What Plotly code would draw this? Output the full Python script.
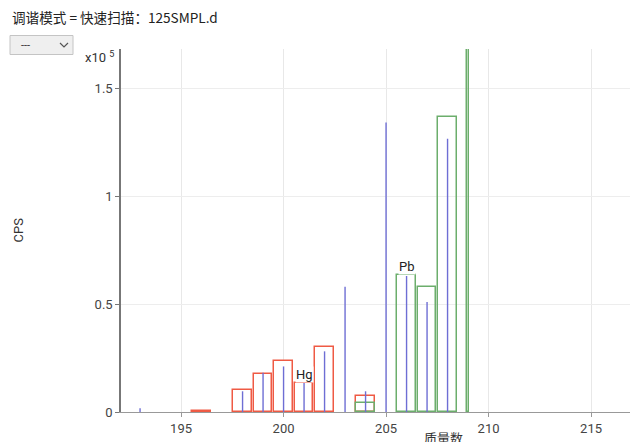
import plotly.graph_objects as go

# ---- data (CPS in units of 1e5) ----
blue_mass = [193, 198, 199, 200, 201, 202, 203, 204, 205, 206, 207, 208]
blue_cps = [0.017, 0.096, 0.182, 0.211, 0.134, 0.281, 0.58, 0.096, 1.341, 0.63, 0.509, 1.266]

hg_mass = [196, 198, 199, 200, 201, 202, 204]
hg_cps = [0.003, 0.104, 0.175, 0.235, 0.134, 0.301, 0.073]

pb_mass = [204, 206, 207, 208]
pb_cps = [0.042, 0.633, 0.579, 1.368]

bi_mass = [209]
bi_cps = [1.75]

x_ticks = [195, 200, 205, 210, 215]
y_ticks = [0, 0.5, 1, 1.5]
y_tick_text = ["0", "0.5", "1", "1.5"]

SCALE = 1e5
W, H = 638, 442
OFF = 8  # page body margin
L, R, T, B = 113, 0, 40.5, 38.3

RED = "#ef5a44"
GREEN = "#6cae6c"
BLUE = "#6e6ed4"
FONT = "Roboto"
CJK = "Noto Sans CJK SC"

fig = go.Figure()

fig.add_trace(go.Bar(x=hg_mass, y=[v * SCALE for v in hg_cps], width=0.92,
                     marker=dict(color="white", line=dict(color=RED, width=1.5)),
                     hoverinfo="skip"))
fig.add_trace(go.Bar(x=pb_mass, y=[v * SCALE for v in pb_cps], width=0.92,
                     marker=dict(color="rgba(255,255,255,0)", line=dict(color=GREEN, width=1.5)),
                     hoverinfo="skip"))
fig.add_trace(go.Bar(x=bi_mass, y=[v * SCALE for v in bi_cps], width=0.08,
                     marker=dict(color="rgba(255,255,255,0)", line=dict(color=GREEN, width=1.5)),
                     hoverinfo="skip"))

bx, by = [], []
for m, v in zip(blue_mass, blue_cps):
    bx += [m, m, None]
    by += [0, v * SCALE, None]
fig.add_trace(go.Scatter(x=bx, y=by, mode="lines", line=dict(color=BLUE, width=1.4),
                         hoverinfo="skip"))

pw, ph = W - L - R, H - T - B


def px(x):
    return (x - OFF - L) / pw


def py(y):
    return (H - B - (y - OFF)) / ph


annotations = [
    dict(x=201, y=0.134 * SCALE, xref="x", yref="y", text="Hg", showarrow=False,
         yanchor="bottom", bgcolor="white", font=dict(size=13, color="#222", family=FONT),
         borderpad=0),
    dict(x=206, y=0.633 * SCALE, xref="x", yref="y", text="Pb", showarrow=False,
         yanchor="bottom", bgcolor="white", font=dict(size=13, color="#222", family=FONT),
         borderpad=0),
    dict(x=px(116), y=py(57), xref="paper", yref="paper", text="x10 <sup>5</sup>",
         showarrow=False, xanchor="right", yanchor="middle",
         font=dict(size=13, color="#333", family=FONT)),
    dict(x=px(18), y=py(230), xref="paper", yref="paper", text="CPS", textangle=-90,
         showarrow=False, xanchor="center", yanchor="middle",
         font=dict(size=13, color="#333", family=FONT)),
    dict(x=px(443), y=py(437), xref="paper", yref="paper", text="质量数",
         showarrow=False, xanchor="center", yanchor="middle",
         font=dict(size=13, color="#333", family=CJK)),
    dict(x=px(10), y=py(16), xref="paper", yref="paper",
         text="调谐模式 = 快速扫描：125SMPL.d",
         showarrow=False, xanchor="left", yanchor="middle",
         font=dict(size=13.6, color="#222", family=CJK)),
    dict(x=px(19), y=py(45), xref="paper", yref="paper", text="---",
         showarrow=False, xanchor="left", yanchor="middle",
         font=dict(size=11, color="#333", family=FONT)),
]

shapes = [
    dict(type="rect", xref="paper", yref="paper", x0=px(10), x1=px(73), y0=py(54), y1=py(35),
         fillcolor="#efefef", line=dict(color="#c4c4c4", width=1), layer="above"),
    dict(type="path", xref="paper", yref="paper",
         path=f"M {px(60)} {py(42.5)} L {px(64)} {py(46.5)} L {px(68)} {py(42.5)}",
         line=dict(color="#555", width=1.2), layer="above"),
]

fig.update_layout(
    width=W, height=H,
    margin=dict(l=L, r=R, t=T, b=B, pad=0),
    paper_bgcolor="white", plot_bgcolor="white",
    barmode="overlay", bargap=0, showlegend=False,
    font=dict(family=FONT, size=13, color="#444"),
    annotations=annotations, shapes=shapes,
    xaxis=dict(range=[192.07, 217.68], tickvals=x_ticks, ticktext=[str(t) for t in x_ticks],
               showgrid=True, gridcolor="#e8e8e8", gridwidth=1, zeroline=False,
               showline=True, linecolor="#999", linewidth=1.2,
               ticks="outside", ticklen=4, tickcolor="#999",
               tickfont=dict(size=13, color="#444")),
    yaxis=dict(range=[0, 1.6815 * SCALE], tickvals=[v * SCALE for v in y_ticks], ticktext=y_tick_text,
               showgrid=True, gridcolor="#ededed", gridwidth=1, zeroline=False,
               showline=True, linecolor="#777", linewidth=1.5,
               ticks="outside", ticklen=4, tickcolor="#777",
               tickfont=dict(size=13, color="#444")),
)

fig.write_html("out.html")
